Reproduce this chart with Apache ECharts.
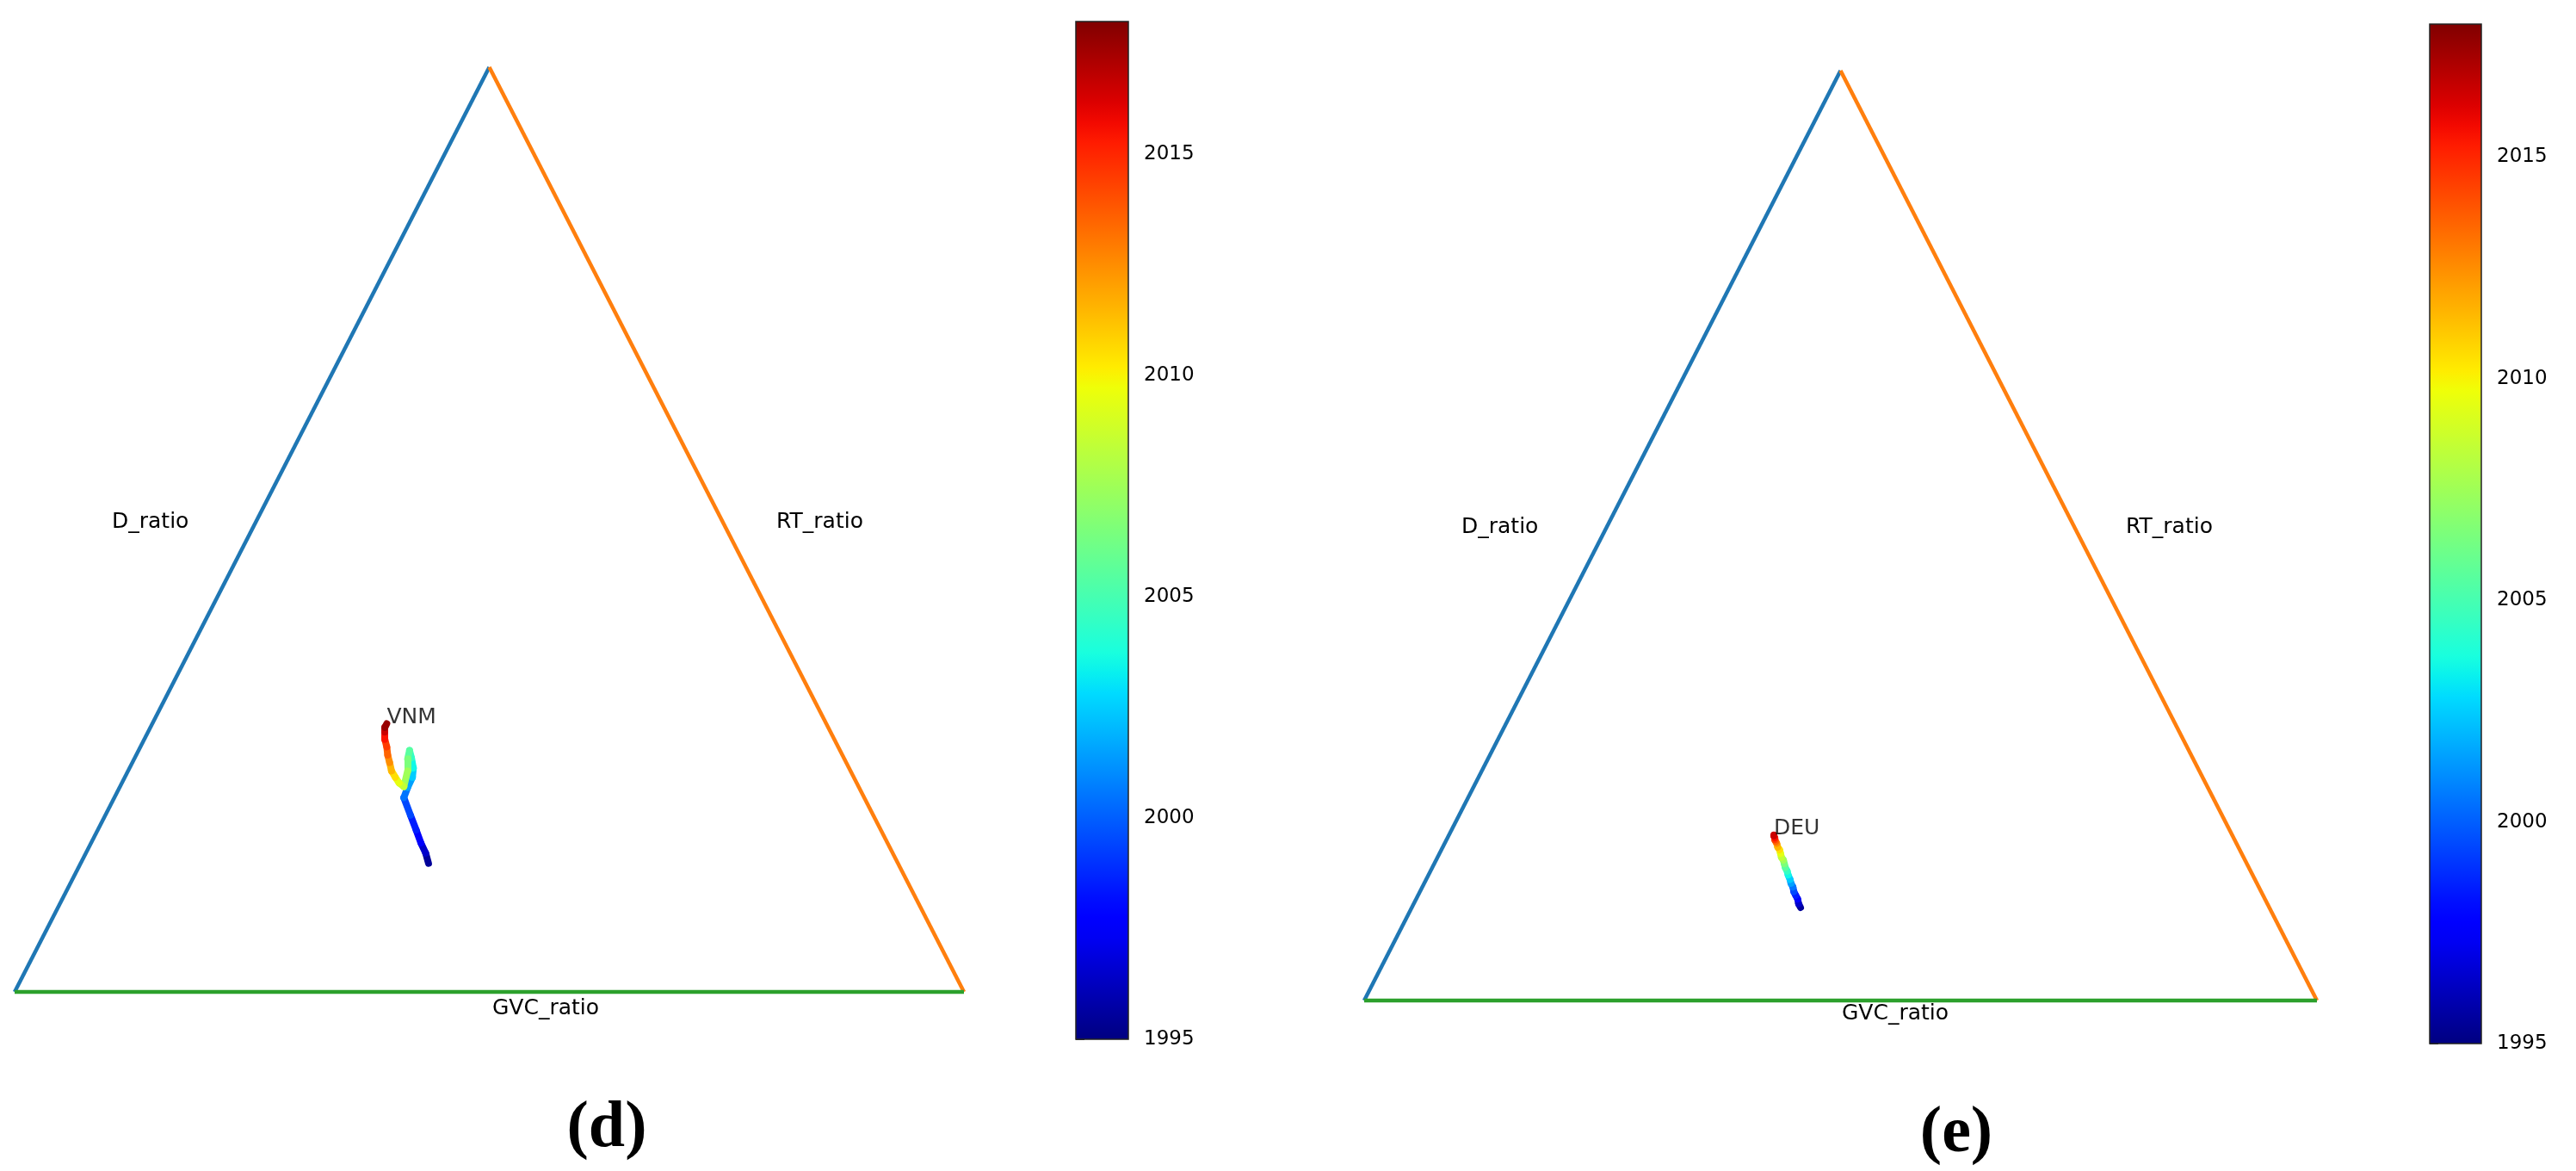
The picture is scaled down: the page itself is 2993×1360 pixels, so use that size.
<!DOCTYPE html>
<html>
<head>
<meta charset="utf-8">
<title>Ternary trajectories</title>
<script src="https://cdn.jsdelivr.net/npm/echarts@6/dist/echarts.min.js"></script>
<style>
  html, body { margin: 0; padding: 0; background: #fff; }
  #chart { width: 2993px; height: 1360px; }
</style>
</head>
<body>
<div id="chart"></div>
<script>
// years covered by both trajectories
const years = [1995, 1996, 1997, 1998, 1999, 2000, 2001, 2002, 2003, 2004, 2005, 2006,
               2007, 2008, 2009, 2010, 2011, 2012, 2013, 2014, 2015, 2016, 2017, 2018];

// position inside the triangle (base = 0..1 along GVC_ratio side, height = 0..1 towards apex)
const vnmX = [0.436, 0.433, 0.428, 0.423, 0.417, 0.410, 0.414, 0.419, 0.420, 0.418, 0.416, 0.414,
              0.414, 0.410, 0.405, 0.401, 0.397, 0.395, 0.393, 0.392, 0.390, 0.390, 0.390, 0.392];
const vnmY = [0.139, 0.150, 0.161, 0.175, 0.191, 0.210, 0.221, 0.232, 0.242, 0.253, 0.261, 0.252,
              0.239, 0.222, 0.226, 0.232, 0.239, 0.248, 0.256, 0.265, 0.273, 0.281, 0.286, 0.290];

const deuX = [0.458, 0.456, 0.455, 0.453, 0.451, 0.450, 0.448, 0.447, 0.445, 0.444, 0.442, 0.441,
              0.440, 0.438, 0.437, 0.436, 0.434, 0.433, 0.432, 0.431, 0.431, 0.430, 0.430, 0.430];
const deuY = [0.100, 0.104, 0.109, 0.113, 0.117, 0.122, 0.126, 0.130, 0.135, 0.139, 0.143, 0.147,
              0.151, 0.154, 0.158, 0.162, 0.165, 0.169, 0.171, 0.173, 0.175, 0.177, 0.178, 0.178];

// triangle corners: bottom-left, apex, bottom-right
const vertexX = [0, 0.5, 1];
const vertexY = [0, 1, 0];

const axisNames = ['D_ratio', 'RT_ratio', 'GVC_ratio'];
const panelTitles = ['(d)', '(e)'];
const countries = ['VNM', 'DEU'];

const yearMin = 1995;
const yearMax = 2018;
const cbarTicks = [1995, 2000, 2005, 2010, 2015];

const edgeColors = ['#1f77b4', '#ff7f0e', '#2ca02c'];
const FONT = '"DejaVu Sans", sans-serif';

// matplotlib "jet"
const JET = {
  r: [[0, 0], [0.35, 0], [0.66, 1], [0.89, 1], [1, 0.5]],
  g: [[0, 0], [0.125, 0], [0.375, 1], [0.64, 1], [0.91, 0], [1, 0]],
  b: [[0, 0.5], [0.11, 1], [0.34, 1], [0.65, 0], [1, 0]]
};
function channel(pts, t) {
  for (let i = 1; i < pts.length; i++) {
    if (t <= pts[i][0]) {
      const [x0, y0] = pts[i - 1];
      const [x1, y1] = pts[i];
      return y0 + (y1 - y0) * (t - x0) / (x1 - x0);
    }
  }
  return pts[pts.length - 1][1];
}
function jet(t) {
  t = Math.min(1, Math.max(0, t));
  const c = ['r', 'g', 'b'].map((k) => Math.round(channel(JET[k], t) * 255));
  return `rgb(${c[0]},${c[1]},${c[2]})`;
}
function yearColor(y) {
  return jet((y - yearMin) / (yearMax - yearMin));
}

const jetStops = [];
for (let i = 0; i <= 50; i++) {
  const t = i / 50;
  jetStops.push({ offset: 1 - t, color: jet(t) });
}

// pixel layout of the two panels
const panels = [
  { tri: { left: 17, top: 78, width: 1103, height: 1074 },
    cbar: { left: 1250, top: 25, width: 61, height: 1182 },
    dx: 0, dy: 0, xs: vnmX, ys: vnmY },
  { tri: { left: 1585, top: 82, width: 1107, height: 1080 },
    cbar: { left: 2823, top: 28, width: 60, height: 1184 },
    dx: 1568, dy: 6, xs: deuX, ys: deuY }
];

const grid = [];
const xAxis = [];
const yAxis = [];
const series = [];
const graphic = [];

panels.forEach((p, i) => {
  const gTri = i * 2;
  const gBar = i * 2 + 1;
  grid.push(p.tri, p.cbar);

  xAxis.push({ gridIndex: gTri, type: 'value', min: 0, max: 1, show: false });
  yAxis.push({ gridIndex: gTri, type: 'value', min: 0, max: 1, show: false });
  xAxis.push({ gridIndex: gBar, type: 'value', min: 0, max: 1, show: false });
  yAxis.push({
    gridIndex: gBar,
    type: 'value',
    position: 'right',
    min: yearMin,
    max: yearMax,
    axisLine: { show: false },
    splitLine: { show: false },
    axisTick: {
      show: true,
      length: 10,
      customValues: cbarTicks,
      lineStyle: { color: '#000', width: 1.5 }
    },
    axisLabel: {
      customValues: cbarTicks,
      formatter: (v) => String(v),
      margin: 18,
      fontSize: 23,
      color: '#000',
      fontFamily: FONT
    }
  });

  // triangle sides: left (D), right (RT), bottom (GVC)
  const edges = [[0, 1], [1, 2], [2, 0]];
  edges.forEach(([a, b], k) => {
    series.push({
      type: 'line',
      xAxisIndex: gTri,
      yAxisIndex: gTri,
      data: [[vertexX[a], vertexY[a]], [vertexX[b], vertexY[b]]],
      showSymbol: false,
      clip: false,
      silent: true,
      lineStyle: { color: edgeColors[k], width: 4.5 }
    });
  });

  // trajectory, each yearly step coloured by the year on the jet scale
  const segs = [];
  for (let j = 0; j < years.length - 1; j++) {
    segs.push({
      coords: [[p.xs[j], p.ys[j]], [p.xs[j + 1], p.ys[j + 1]]],
      lineStyle: { color: yearColor((years[j] + years[j + 1]) / 2) }
    });
  }
  series.push({
    type: 'lines',
    coordinateSystem: 'cartesian2d',
    xAxisIndex: gTri,
    yAxisIndex: gTri,
    polyline: false,
    clip: false,
    silent: true,
    lineStyle: { width: 8, cap: 'round', join: 'round', opacity: 1 },
    data: segs
  });

  // country label at the last year
  const last = years.length - 1;
  series.push({
    type: 'scatter',
    xAxisIndex: gTri,
    yAxisIndex: gTri,
    symbolSize: 2,
    itemStyle: { color: 'rgba(0,0,0,0)' },
    silent: true,
    data: [[p.xs[last], p.ys[last]]],
    label: {
      show: true,
      formatter: countries[i],
      position: [1, 1],
      align: 'left',
      verticalAlign: 'bottom',
      offset: [0, 5],
      fontSize: 25,
      color: '#000',
      fontFamily: FONT
    }
  });

  // colour bar
  series.push({
    type: 'custom',
    xAxisIndex: gBar,
    yAxisIndex: gBar,
    silent: true,
    data: [[0, yearMin, 1, yearMax]],
    renderItem: (params, api) => {
      const p0 = api.coord([api.value(0), api.value(3)]);
      const p1 = api.coord([api.value(2), api.value(1)]);
      return {
        type: 'rect',
        shape: { x: p0[0], y: p0[1], width: p1[0] - p0[0], height: p1[1] - p0[1] },
        style: {
          fill: new echarts.graphic.LinearGradient(0, 0, 0, 1, jetStops),
          stroke: '#222',
          lineWidth: 1.5
        }
      };
    }
  });

  const txt = (text, x, y) => ({
    type: 'text',
    x: x + p.dx,
    y: y + p.dy,
    style: { text, font: `25px ${FONT}`, fill: '#000', verticalAlign: 'middle' }
  });
  graphic.push(txt(axisNames[0], 130, 606));
  graphic.push(txt(axisNames[1], 902, 606));
  graphic.push(txt(axisNames[2], 572, 1171));
  graphic.push({
    type: 'text',
    x: 705 + p.dx,
    y: 1311 + p.dy,
    style: {
      text: panelTitles[i],
      font: 'bold 76px "Liberation Serif", "Times New Roman", serif',
      fill: '#000',
      align: 'center',
      verticalAlign: 'middle'
    }
  });
});

const chart = echarts.init(document.getElementById('chart'), null, { renderer: 'canvas' });
chart.setOption({
  animation: false,
  backgroundColor: '#fff',
  grid,
  xAxis,
  yAxis,
  series,
  graphic
});
window.addEventListener('resize', () => chart.resize());
</script>
</body>
</html>
